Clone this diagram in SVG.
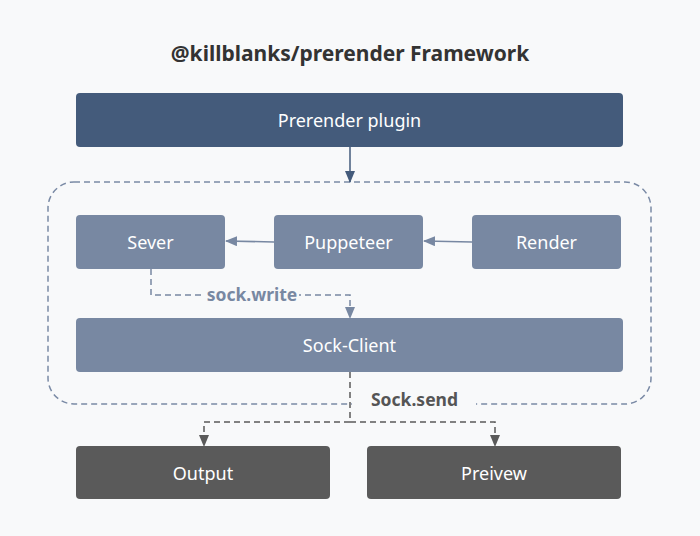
<svg xmlns="http://www.w3.org/2000/svg" width="700" height="536" viewBox="0 0 700 536">
<defs>
<style>
.title{font-family:"Noto Sans","Open Sans",sans-serif;font-weight:bold;font-size:21px;fill:#333333}
.lbl{font-family:"Noto Sans","Open Sans",sans-serif;font-size:18px;fill:#ffffff}
.blue{fill:#7888a2}
.dark{fill:#5a5a5a}
.edge{font-family:"Noto Sans","Open Sans",sans-serif;font-weight:bold;font-size:17.5px}
</style>
<marker id="ahBlue" markerWidth="12" markerHeight="10" refX="11" refY="5" orient="auto" markerUnits="userSpaceOnUse"><path d="M0,0 L12,5 L0,10 z" fill="#445b7b"/></marker>
<marker id="ahGray" markerWidth="12" markerHeight="10" refX="11" refY="5" orient="auto" markerUnits="userSpaceOnUse"><path d="M0,0 L12,5 L0,10 z" fill="#7888a2"/></marker>
<marker id="ahDark" markerWidth="12" markerHeight="10" refX="11" refY="5" orient="auto" markerUnits="userSpaceOnUse"><path d="M0,0 L12,5 L0,10 z" fill="#5a5a5a"/></marker>
</defs>
<rect x="0" y="0" width="700" height="536" fill="#f8f9fa"/>
<text class="title" x="350" y="61" text-anchor="middle">@killblanks/prerender Framework</text>
<g id="container">
<rect x="48" y="182" width="603" height="222" rx="26" fill="none" stroke="#7a8aa5" stroke-width="1.5" stroke-dasharray="6,4"/>
</g>
<g id="plugin"><rect x="76" y="93" width="547" height="54" rx="4" fill="#445b7b"/><text class="lbl" x="349.5" y="126.5" text-anchor="middle">Prerender plugin</text></g>
<g id="sever"><rect class="blue" x="76" y="215" width="149" height="54" rx="4"/><text class="lbl" x="150.5" y="248.5" text-anchor="middle">Sever</text></g>
<g id="puppeteer"><rect class="blue" x="274" y="215" width="149" height="54" rx="4"/><text class="lbl" x="348.5" y="248.5" text-anchor="middle">Puppeteer</text></g>
<g id="render"><rect class="blue" x="472" y="215" width="149" height="54" rx="4"/><text class="lbl" x="546.5" y="248.5" text-anchor="middle">Render</text></g>
<g id="sockclient"><rect class="blue" x="76" y="318" width="547" height="54" rx="4"/><text class="lbl" x="349.5" y="351.5" text-anchor="middle">Sock-Client</text></g>
<g id="output"><rect class="dark" x="76" y="446" width="254" height="53" rx="4"/><text class="lbl" x="203" y="479.5" text-anchor="middle">Output</text></g>
<g id="preivew"><rect class="dark" x="367" y="446" width="254" height="53" rx="4"/><text class="lbl" x="494" y="479.5" text-anchor="middle">Preivew</text></g>
<g id="connectors">
<line x1="350" y1="147" x2="350" y2="182" stroke="#445b7b" stroke-width="1.5" marker-end="url(#ahBlue)"/>
<line x1="274" y1="242" x2="226" y2="241" stroke="#7888a2" stroke-width="1.5" marker-end="url(#ahGray)"/>
<line x1="472" y1="242" x2="424" y2="241" stroke="#7888a2" stroke-width="1.5" marker-end="url(#ahGray)"/>
<polyline points="151,269 151,295 350,295 350,318" fill="none" stroke="#7888a2" stroke-width="1.5" stroke-dasharray="6,4" marker-end="url(#ahGray)"/>
<rect x="204" y="285" width="95" height="20" fill="#f8f9fa"/>
<text class="edge" x="252" y="301" text-anchor="middle" fill="#7888a2">sock.write</text>
<rect x="352" y="390" width="124" height="22" fill="#f8f9fa"/>
<text class="edge" x="414.5" y="406" text-anchor="middle" fill="#555555">Sock.send</text>
<line x1="350" y1="372" x2="350" y2="422" stroke="#5a5a5a" stroke-width="1.5" stroke-dasharray="6,4"/>
<polyline points="350,422 204,422 204,446" fill="none" stroke="#5a5a5a" stroke-width="1.5" stroke-dasharray="6,4" marker-end="url(#ahDark)"/>
<polyline points="350,422 495,422 495,446" fill="none" stroke="#5a5a5a" stroke-width="1.5" stroke-dasharray="6,4" marker-end="url(#ahDark)"/>
</g>
</svg>
